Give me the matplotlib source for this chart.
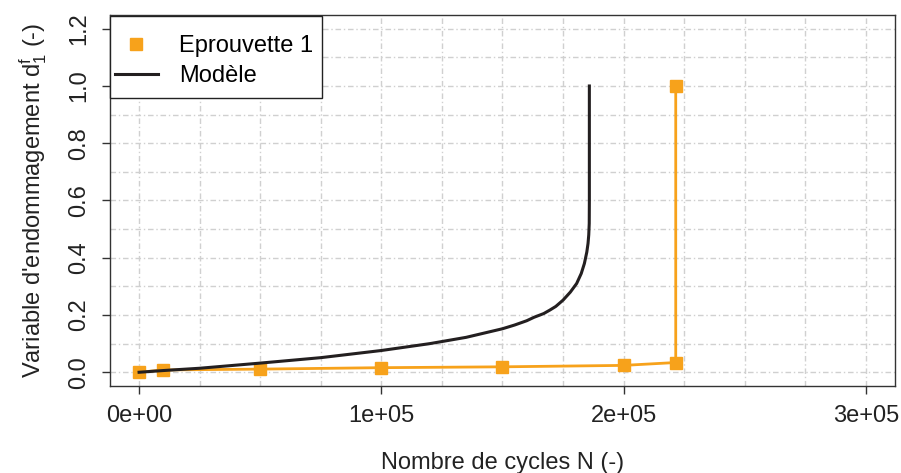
import matplotlib
matplotlib.use("Agg")
import matplotlib.pyplot as plt
from matplotlib.patches import Rectangle
import numpy as np

plt.rcParams['font.family'] = ['Liberation Sans', 'DejaVu Sans']
plt.rcParams['mathtext.fontset'] = 'custom'
plt.rcParams['mathtext.rm'] = 'Liberation Sans'
plt.rcParams['mathtext.it'] = 'Liberation Sans'

# essai : eprouvette 1
n_essai = [0, 10000, 50000, 100000, 150000, 200000, 221500, 221500]
d_essai = [0.0, 0.008, 0.011, 0.016, 0.019, 0.024, 0.034, 1.0]

# modele d'endommagement
n_modele = [0, 10000, 25000, 50000, 75000, 100000, 110000, 120000, 135000,
            142000, 150000, 155000, 160000, 163000, 167000, 169500, 172000,
            175000, 178000, 180600, 182500, 183800, 184800, 185300, 185600,
            185800, 185850, 185850]
d_modele = [0.0, 0.006, 0.014, 0.032, 0.051, 0.076, 0.088, 0.100, 0.122,
            0.136, 0.152, 0.165, 0.180, 0.192, 0.205, 0.217, 0.230,
            0.252, 0.280, 0.310, 0.345, 0.380, 0.420, 0.450, 0.480,
            0.520, 0.600, 1.000]

x_ticks = [0, 100000, 200000, 300000]
x_labels = ['0e+00', '1e+05', '2e+05', '3e+05']
y_ticks = [0.0, 0.2, 0.4, 0.6, 0.8, 1.0, 1.2]

orange = '#F7A21B'
fs = 17
W, H = 901, 473

fig = plt.figure(figsize=(W / 100, H / 100), dpi=100)
ax = fig.add_axes([110 / W, 1 - 386 / H, 785 / W, 371 / H])

ax.set_xlim(-12000, 312000)
ax.set_ylim(-0.048, 1.248)

# grille
for gx in np.arange(0, 300001, 25000):
    ax.axvline(gx, color='#d0d0d0', lw=1, dashes=(4, 2, 1, 2), zorder=0)
for gy in np.arange(0, 1.21, 0.1):
    ax.axhline(gy, color='#d0d0d0', lw=1, dashes=(4, 2, 1, 2), zorder=0)

ax.plot(n_essai, d_essai, color=orange, lw=2, marker='s', ms=8.5,
        mec=orange, mfc=orange, label='Eprouvette 1', zorder=3)
ax.plot(n_modele, d_modele, color='#231F20', lw=2.2, label='Modèle', zorder=4)

ax.set_xticks(x_ticks)
ax.set_xticklabels(x_labels)
ax.set_yticks(y_ticks)
ax.set_yticklabels(['%.1f' % v for v in y_ticks], rotation=90, va='center')
ax.tick_params(direction='out', length=6, width=1, color='#333333',
               labelsize=fs, labelcolor='#222222', pad=8)

for s in ax.spines.values():
    s.set_color('#333333')
    s.set_linewidth(1)

ax.set_xlabel('Nombre de cycles N (-)', fontsize=fs, color='#222222', labelpad=18)
ax.set_ylabel(r"Variable d'endommagement $\mathrm{d}_1^\mathrm{f}$ (-)",
              fontsize=fs, color='#222222', labelpad=14)

# cadre de la legende (coin superieur gauche)
cadre = Rectangle((110 / W, 1 - 98 / H), 212 / W, 82 / H, transform=fig.transFigure,
                  facecolor='white', edgecolor='#222222', lw=1, zorder=5,
                  clip_on=False)
ax.add_patch(cadre)

leg = ax.legend(loc='upper left', bbox_to_anchor=(115 / W, 1 - 35 / H),
                bbox_transform=fig.transFigure, borderaxespad=0, borderpad=0,
                frameon=False, fontsize=fs, handlelength=1.8, handletextpad=0.9,
                labelspacing=0.34, numpoints=1)
leg.legend_handles[0].set_linestyle('none')
leg.set_zorder(10)

fig.savefig('out.png', dpi=100)
